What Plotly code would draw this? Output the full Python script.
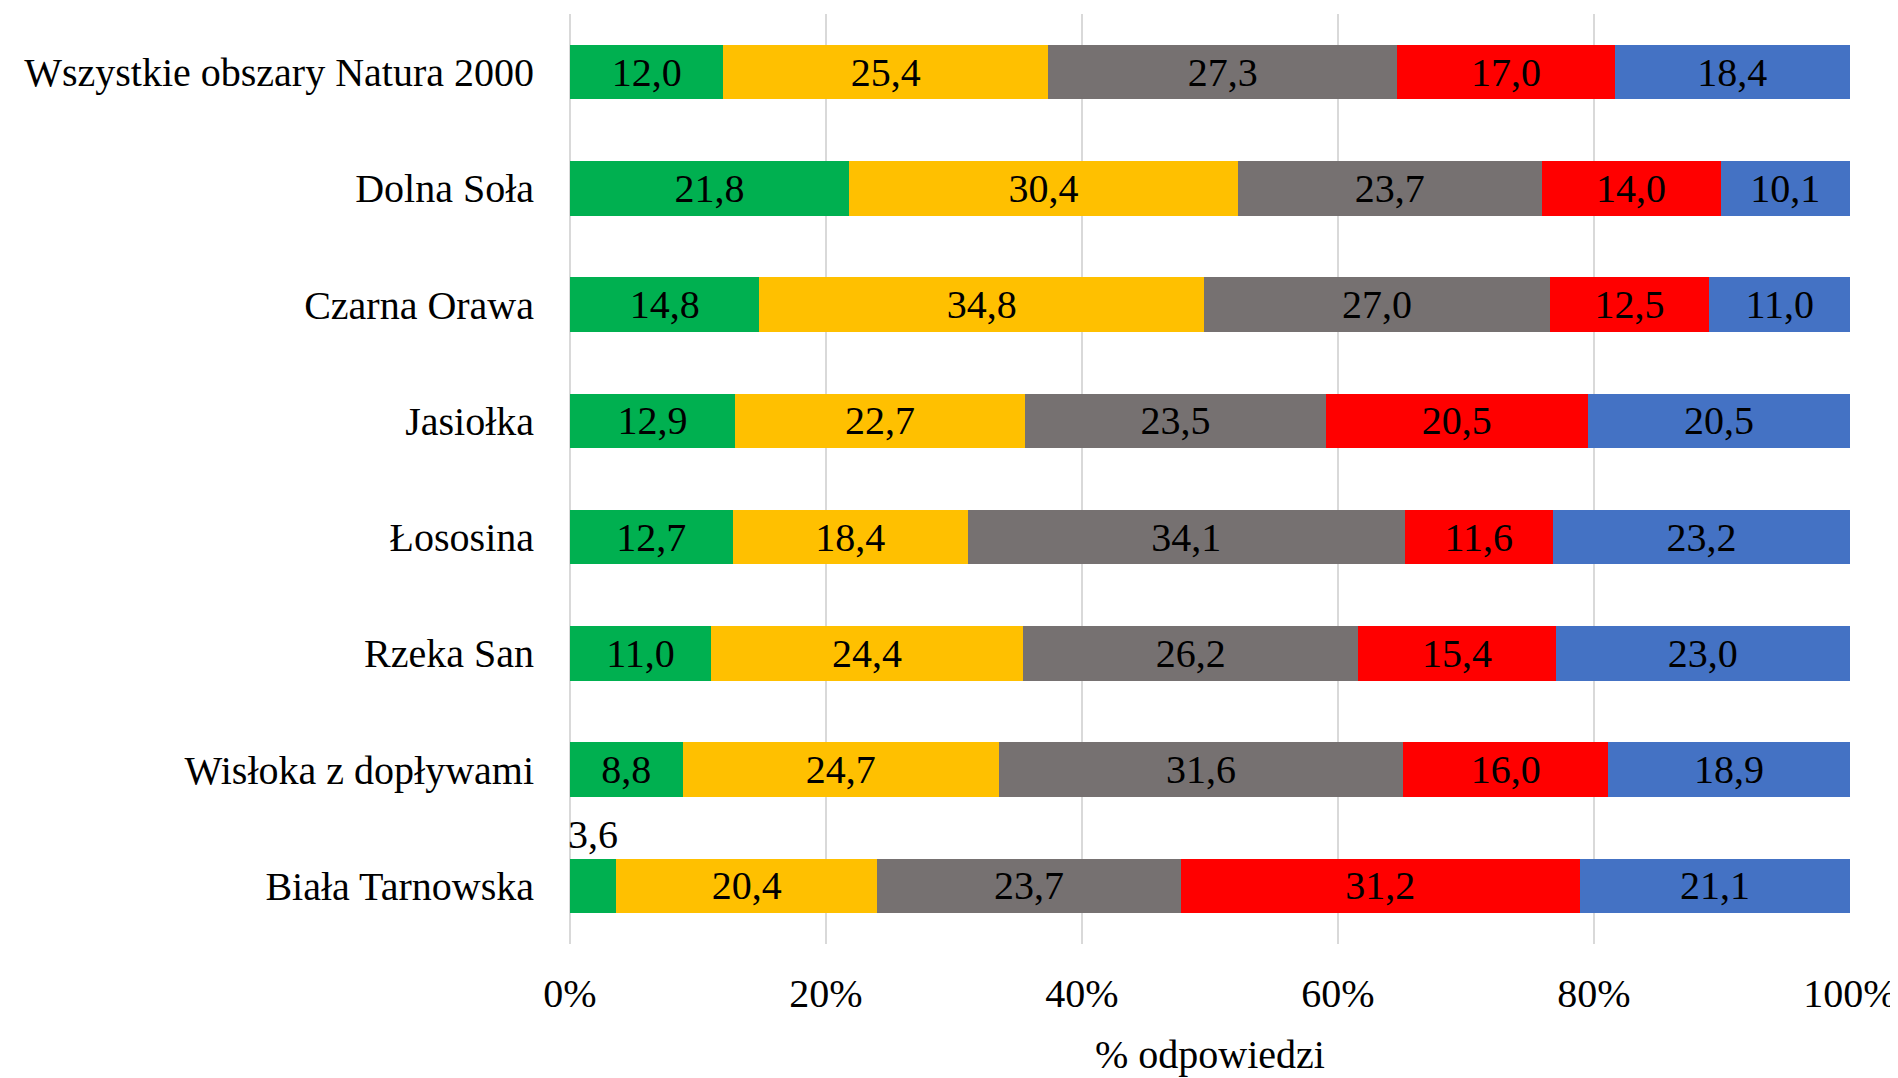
import plotly.graph_objects as go

categories = ["Wszystkie obszary Natura 2000", "Dolna Soła", "Czarna Orawa", "Jasiołka",
              "Łososina", "Rzeka San", "Wisłoka z dopływami", "Biała Tarnowska"]
s1 = [12.0, 21.8, 14.8, 12.9, 12.7, 11.0, 8.8, 3.6]
s2 = [25.4, 30.4, 34.8, 22.7, 18.4, 24.4, 24.7, 20.4]
s3 = [27.3, 23.7, 27.0, 23.5, 34.1, 26.2, 31.6, 23.7]
s4 = [17.0, 14.0, 12.5, 20.5, 11.6, 15.4, 16.0, 31.2]
s5 = [18.4, 10.1, 11.0, 20.5, 23.2, 23.0, 18.9, 21.1]
colors = ["#00B050", "#FFC000", "#767171", "#FF0000", "#4472C4"]
tick_vals = [0, 20, 40, 60, 80, 100]
tick_text = [f"{v}%" for v in tick_vals]

FONT = "Liberation Serif, Times New Roman, serif"

def fmt(v):
    return f"{v:.1f}".replace(".", ",")

fig = go.Figure()
for i, (vals, col) in enumerate(zip([s1, s2, s3, s4, s5], colors)):
    texts = [fmt(v) for v in vals]
    if i == 0:
        # the small segment's label is drawn above the bar
        texts = [t if v >= 5 else "" for t, v in zip(texts, vals)]
    fig.add_trace(go.Bar(
        x=vals, y=categories, orientation="h", marker=dict(color=col, line=dict(width=0)),
        text=texts, textposition="inside", insidetextanchor="middle",
        textangle=0, constraintext="none",
        textfont=dict(family=FONT, size=40, color="black"),
        hoverinfo="skip", showlegend=False,
    ))

for v, c in zip(s1, categories):
    if v < 5:
        fig.add_annotation(x=v / 2, y=c, xref="x", yref="y", text=fmt(v), showarrow=False,
                           yshift=51, font=dict(family=FONT, size=40, color="black"))

n = len(categories)
fig.update_layout(
    barmode="stack", barnorm="percent", bargap=0.53,
    width=1890, height=1070,
    margin=dict(l=562, r=48, t=6, b=134, autoexpand=False),
    plot_bgcolor="white", paper_bgcolor="white",
    font=dict(family=FONT, size=40, color="black"),
    xaxis=dict(range=[0, 100], tickmode="array", tickvals=tick_vals, ticktext=tick_text,
               automargin=False,
               showgrid=True, gridcolor="#D9D9D9", gridwidth=2,
               zeroline=True, zerolinecolor="#D9D9D9", zerolinewidth=2,
               showline=False, ticks="", ticklabelstandoff=22,
               title=dict(text="% odpowiedzi", standoff=24,
                          font=dict(family=FONT, size=40, color="black")),
               tickfont=dict(family=FONT, size=40, color="black")),
    yaxis=dict(range=[n - 0.5, -0.5], showgrid=False, showline=False, ticks="",
               automargin=False, ticklabelstandoff=35,
               tickfont=dict(family=FONT, size=40, color="black")),
)

fig.write_html("out.html")
